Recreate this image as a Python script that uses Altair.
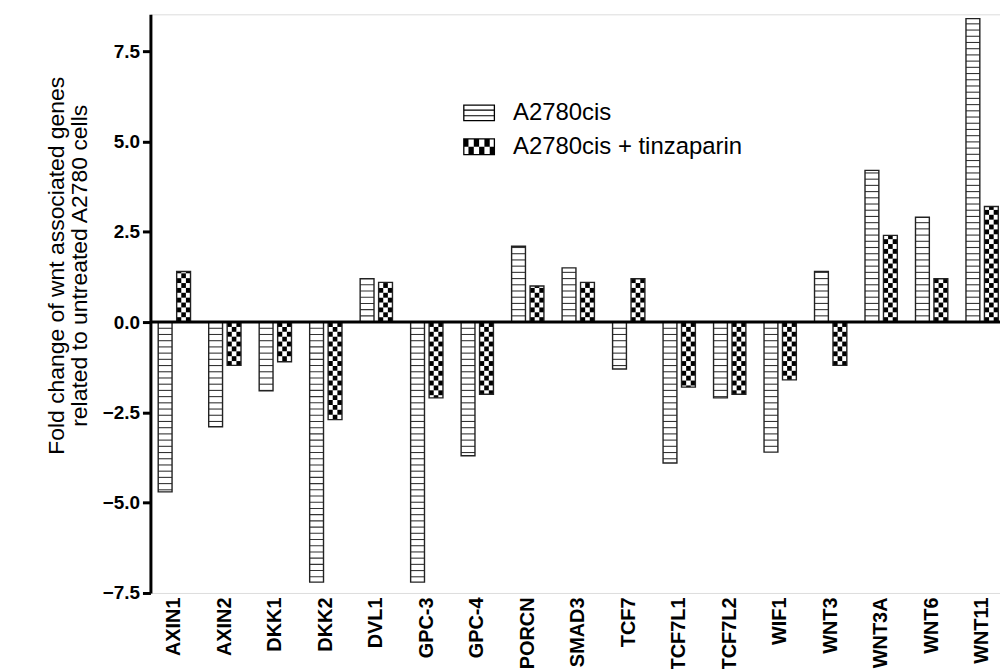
import altair as alt
import pandas as pd

# ---- data ----
genes = ["AXIN1", "AXIN2", "DKK1", "DKK2", "DVL1", "GPC-3", "GPC-4", "PORCN",
         "SMAD3", "TCF7", "TCF7L1", "TCF7L2", "WIF1", "WNT3", "WNT3A", "WNT6", "WNT11"]
cis_values = [-4.7, -2.9, -1.9, -7.2, 1.2, -7.2, -3.7, 2.1, 1.5, -1.3, -3.9, -2.1,
              -3.6, 1.4, 4.2, 2.9, 8.4]
tinz_values = [1.4, -1.2, -1.1, -2.7, 1.1, -2.1, -2.0, 1.0, 1.1, 1.2, -1.8, -2.0,
               -1.6, -1.2, 2.4, 1.2, 3.2]
series_names = ["A2780cis", "A2780cis + tinzaparin"]
y_ticks = [-7.5, -5.0, -2.5, 0.0, 2.5, 5.0, 7.5]
y_title = ["Fold change of wnt associated genes", "related to untreated A2780 cells"]

rows = []
for g, a, b in zip(genes, cis_values, tinz_values):
    rows.append({"gene": g, "series": series_names[0], "value": a})
    rows.append({"gene": g, "series": series_names[1], "value": b})
df = pd.DataFrame(rows)
zero_df = pd.DataFrame({"zero": [0.0]})

# ---- layout constants ----
PLOT_W, PLOT_H = 853, 581
PAD_IN, PAD_OUT, X_ALIGN = 0.36, 0.094, 0.82
OFF_PAD = 0.25          # gives bar width = 3/7 of group band
cell_domain = ["_0", "_1", "_2", "_3", "c0", "c1", "c2"]

Y_MIN, Y_MAX = -7.5, 8.52
STRIPE = 0.172      # stripe spacing (data units)
LINE = 0.03         # stripe thickness (data units)
CELL_H = 0.135      # checker row height (data units)

FONT = "Liberation Sans"

x_axis = alt.Axis(title=None, labelAngle=-90, labelFontSize=20, labelFontWeight="bold",
                  labelFont=FONT, labelColor="black", domain=False, ticks=False,
                  labelPadding=4, labelLimit=0)
y_axis = alt.Axis(values=y_ticks, format=".1f", labelFont=FONT, labelFontWeight="bold",
                  labelFontSize=19, labelColor="black", tickSize=8, tickWidth=3,
                  tickColor="black", domainWidth=3, domainColor="black", grid=False,
                  labelPadding=3, title=y_title, titleFontSize=23, titleFontWeight="normal",
                  titleFont=FONT, titleColor="black", titleX=-87, titleY=252,
                  titleAlign="center", titleBaseline="alphabetic", titleLineHeight=23)

def X():
    return alt.X("gene:N", sort=genes,
                 scale=alt.Scale(paddingInner=PAD_IN, paddingOuter=PAD_OUT, align=X_ALIGN,
                                 round=False),
                 axis=x_axis)

def XO():
    return alt.XOffset("series:N", sort=series_names,
                       scale=alt.Scale(domain=series_names, paddingInner=OFF_PAD, paddingOuter=0))

def Y(field):
    return alt.Y(field, scale=alt.Scale(domain=[Y_MIN, Y_MAX], nice=False, zero=False),
                 axis=y_axis)

base = alt.Chart(df)

fill_layer = base.mark_bar(color="white").encode(x=X(), xOffset=XO(), y=Y("value:Q"))

stripes = base.transform_filter(
    alt.datum.series == series_names[0]
).transform_calculate(
    t=f"sequence({STRIPE}, abs(datum.value), {STRIPE})"
).transform_flatten(["t"]).transform_calculate(
    sy=f"(datum.value < 0 ? -1 : 1) * (datum.t - {LINE / 2})",
    sy2=f"(datum.value < 0 ? -1 : 1) * (datum.t + {LINE / 2})",
).mark_bar(color="#333333").encode(x=X(), xOffset=XO(), y=Y("sy:Q"), y2="sy2:Q")

checker = base.transform_filter(
    alt.datum.series == series_names[1]
).transform_calculate(
    k=f"sequence(0, ceil(abs(datum.value) / {CELL_H}))"
).transform_flatten(["k"]).transform_calculate(
    col="[0, 1, 2]"
).transform_flatten(["col"]).transform_filter(
    "(datum.k + datum.col) % 2 == 0"
).transform_calculate(
    colname="'c' + datum.col",
    cy=f"(datum.value < 0 ? -1 : 1) * datum.k * {CELL_H}",
    cy2=f"(datum.value < 0 ? -1 : 1) * min((datum.k + 1) * {CELL_H}, abs(datum.value))",
).mark_bar(color="black").encode(
    x=X(),
    xOffset=alt.XOffset("colname:N",
                        scale=alt.Scale(domain=cell_domain, paddingInner=0, paddingOuter=0)),
    y=Y("cy:Q"), y2="cy2:Q")

outline = base.mark_bar(fill="white", fillOpacity=0, stroke="#222222", strokeWidth=1.4).encode(
    x=X(), xOffset=XO(), y=Y("value:Q"))

zero_rule = alt.Chart(zero_df).mark_rule(color="black", strokeWidth=3).encode(y=Y("zero:Q"))

# ---- legend swatches as custom symbol paths ----
R = 16.0
def rect(x0, y0, x1, y1, ccw=False):
    x0, y0, x1, y1 = x0 / R, y0 / R, x1 / R, y1 / R
    if ccw:
        return f"M{x0:.4f},{y0:.4f}V{y1:.4f}H{x1:.4f}V{y0:.4f}Z"
    return f"M{x0:.4f},{y0:.4f}H{x1:.4f}V{y1:.4f}H{x0:.4f}Z"

HW, HH, T = 16.0, 8.5, 1.3
frame = rect(-HW, -HH, HW, HH) + rect(-HW + T, -HH + T, HW - T, HH - T, ccw=True)
stripe_path = frame + rect(-HW, -2.83 - 0.6, HW, -2.83 + 0.6) + rect(-HW, 2.83 - 0.6, HW, 2.83 + 0.6)
cw = 2 * HW / 6
cells = ""
for r in range(2):
    for cc in range(6):
        if (r + cc) % 2 == 0:
            cells += rect(-HW + cc * cw, -HH + r * HH, -HW + (cc + 1) * cw, -HH + (r + 1) * HH)
check_path = frame + cells

legend_layer = base.mark_point(filled=True, opacity=0, color="black").encode(
    x=X(), xOffset=XO(), y=Y("value:Q"),
    shape=alt.Shape("series:N", sort=series_names,
                    scale=alt.Scale(domain=series_names, range=[stripe_path, check_path]),
                    legend=alt.Legend(title=None, orient="none", legendX=314, legendY=83,
                                      symbolSize=1024, symbolStrokeWidth=0, symbolOpacity=1,
                                      symbolFillColor="black", labelFontSize=24, labelFont=FONT,
                                      labelColor="black", labelOffset=18, rowPadding=6,
                                      padding=0, labelLimit=0)),
)

chart = alt.layer(fill_layer, stripes, checker, outline, zero_rule, legend_layer).resolve_scale(
    xOffset="independent"
).properties(
    width=PLOT_W, height=PLOT_H,
    autosize=alt.AutoSizeParams(type="none"),
    padding={"left": 143, "top": 5, "right": 0, "bottom": 75},
).configure_view(stroke=None).configure(background="white")

chart.save("out.html", embed_options={"renderer": "svg", "actions": False})
